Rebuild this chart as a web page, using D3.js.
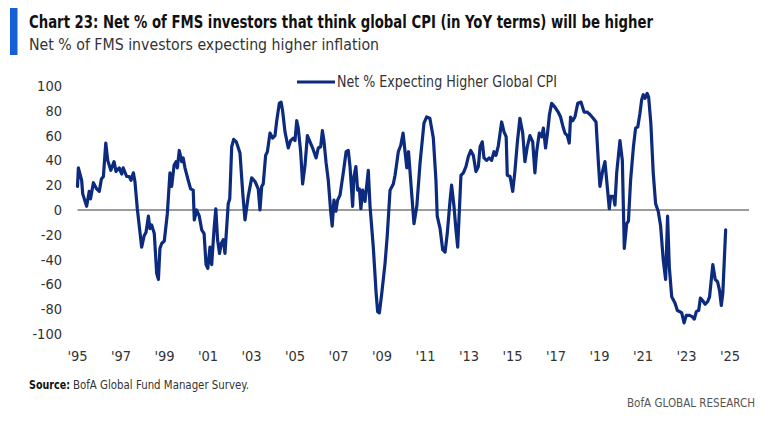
<!DOCTYPE html>
<html>
<head>
<meta charset="utf-8">
<script src="https://cdn.jsdelivr.net/npm/d3@7"></script>
<style>
  html, body { margin: 0; padding: 0; background: #fff; }
  svg { display: block; }
  text { font-family: "Liberation Sans Narrow", "DejaVu Sans Condensed", Roboto, sans-serif; }
</style>
</head>
<body>
<svg id="chart" width="766" height="421"></svg>
<script>
// ---- Data ----
const titleText = "Chart 23: Net % of FMS investors that think global CPI (in YoY terms) will be higher";
const subtitleText = "Net % of FMS investors expecting higher inflation";
const seriesName = "Net % Expecting Higher Global CPI";

// decimal year of each survey point
const years = [
  1995.00,1995.04,1995.19,1995.24,1995.42,1995.54,1995.60,1995.73,1995.88,1996.00,
  1996.10,1996.19,1996.30,1996.39,1996.53,1996.68,1996.77,1996.92,1997.03,1997.10,
  1997.26,1997.38,1997.46,1997.57,1997.64,1997.75,1997.84,1997.95,1998.06,1998.15,
  1998.26,1998.33,1998.41,1998.53,1998.64,1998.72,1998.79,1998.87,1998.99,1999.13,
  1999.25,1999.33,1999.44,1999.53,1999.59,1999.68,1999.79,1999.86,1999.94,2000.09,
  2000.20,2000.32,2000.37,2000.48,2000.60,2000.71,2000.82,2000.91,2000.99,2001.09,
  2001.17,2001.28,2001.36,2001.44,2001.53,2001.61,2001.70,2001.78,2001.93,2002.00,
  2002.09,2002.18,2002.30,2002.47,2002.60,2002.70,2002.85,2003.01,2003.16,2003.31,
  2003.39,2003.47,2003.54,2003.65,2003.73,2003.85,2003.97,2004.08,2004.16,2004.28,
  2004.36,2004.43,2004.54,2004.69,2004.80,2004.92,2005.00,2005.08,2005.15,2005.26,
  2005.35,2005.46,2005.57,2005.69,2005.81,2005.97,2006.07,2006.18,2006.26,2006.33,
  2006.43,2006.53,2006.64,2006.71,2006.79,2006.88,2006.96,2007.07,2007.22,2007.35,
  2007.45,2007.53,2007.65,2007.71,2007.80,2007.88,2007.96,2008.03,2008.11,2008.22,
  2008.37,2008.45,2008.60,2008.73,2008.80,2008.88,2008.99,2009.14,2009.24,2009.37,
  2009.52,2009.60,2009.68,2009.75,2009.86,2009.97,2010.06,2010.14,2010.22,2010.37,
  2010.47,2010.60,2010.75,2010.93,2011.05,2011.20,2011.36,2011.48,2011.54,2011.67,
  2011.79,2011.90,2012.00,2012.13,2012.20,2012.31,2012.40,2012.48,2012.55,2012.63,
  2012.74,2012.86,2012.97,2013.08,2013.20,2013.32,2013.43,2013.51,2013.61,2013.69,
  2013.81,2013.93,2014.04,2014.15,2014.24,2014.35,2014.50,2014.61,2014.71,2014.76,
  2014.89,2015.01,2015.11,2015.22,2015.34,2015.47,2015.57,2015.68,2015.80,2015.93,
  2016.03,2016.11,2016.23,2016.34,2016.42,2016.52,2016.61,2016.70,2016.80,2016.95,
  2017.10,2017.21,2017.31,2017.41,2017.52,2017.61,2017.67,2017.77,2017.87,2018.00,
  2018.15,2018.29,2018.44,2018.56,2018.71,2018.84,2018.95,2019.02,2019.15,2019.25,
  2019.33,2019.45,2019.51,2019.64,2019.71,2019.79,2019.94,2020.05,2020.14,2020.25,
  2020.33,2020.43,2020.56,2020.66,2020.76,2020.86,2020.94,2021.01,2021.09,2021.19,
  2021.26,2021.36,2021.47,2021.58,2021.70,2021.81,2021.93,2022.04,2022.13,2022.21,
  2022.32,2022.47,2022.58,2022.70,2022.78,2022.89,2022.99,2023.14,2023.26,2023.36,
  2023.45,2023.56,2023.64,2023.74,2023.86,2023.97,2024.06,2024.21,2024.32,2024.43,
  2024.52,2024.60,2024.67,2024.80
];

// net % of investors expecting higher global CPI
const netPct = [
  19,34,24,13,3,15,9,22,17,15,
  25,27,54,40,32,39,31,34,29,34,
  27,27,24,30,23,1,-13,-30,-21,-18,
  -5,-15,-12,-19,-51,-56,-31,-27,-25,-3,
  30,19,36,39,34,48,39,42,34,24,
  17,16,-8,0,-5,-16,-19,-44,-47,-30,
  -44,-15,1,-24,-35,-27,-24,-35,5,9,
  51,57,55,46,13,-8,11,26,23,17,
  0,19,21,44,47,62,58,60,72,86,
  87,80,63,50,56,58,56,72,66,47,
  21,36,60,55,50,42,50,51,64,56,
  38,24,-1,-13,8,-1,8,12,30,47,
  48,35,3,27,35,16,17,1,16,7,
  32,3,-30,-67,-82,-83,-67,-43,-21,16,
  21,28,38,47,52,62,47,34,47,12,
  -11,3,38,70,75,74,58,24,-5,-15,
  -32,-34,-19,8,20,3,-16,-30,-3,28,
  30,35,43,48,44,31,35,51,55,42,
  40,42,40,47,44,52,71,63,59,28,
  27,15,31,54,74,62,39,51,60,55,
  30,47,62,59,66,50,62,77,86,83,
  79,75,68,62,60,54,75,72,75,86,
  87,79,79,77,74,71,38,19,32,39,
  24,1,11,11,4,30,56,40,-31,-11,
  -9,24,51,66,67,78,89,93,90,94,
  91,70,30,5,-1,-13,-40,-56,-5,-46,
  -70,-75,-81,-82,-83,-91,-85,-85,-86,-88,
  -82,-81,-71,-73,-76,-74,-70,-44,-56,-58,
  -65,-77,-67,-16
];

const xTickYears = [1995,1997,1999,2001,2003,2005,2007,2009,2011,2013,2015,2017,2019,2021,2023,2025];
const xTickLabels = ["'95","'97","'99","'01","'03","'05","'07","'09","'11","'13","'15","'17","'19","'21","'23","'25"];
const yTicks = [100,80,60,40,20,0,-20,-40,-60,-80,-100];

const sourceBold = "Source:";
const sourceText = "BofA Global Fund Manager Survey.";
const brandText = "BofA GLOBAL RESEARCH";

// ---- Drawing ----
const svg = d3.select("#chart");
const navy = "#0d2b7e";

const x = d3.scaleLinear().domain([1995, 2026]).range([77.5, 751.75]);
const y = d3.scaleLinear().domain([-100, 100]).range([334, 86]);

// header
svg.append("rect").attr("x", 10).attr("y", 8).attr("width", 7.5).attr("height", 47).attr("fill", "#1560d4");
svg.append("text").attr("x", 29).attr("y", 28)
  .attr("font-size", 17).attr("font-weight", "bold").attr("fill", "#111")
  .attr("textLength", 624).attr("lengthAdjust", "spacingAndGlyphs")
  .text(titleText);
svg.append("text").attr("x", 29).attr("y", 50)
  .attr("font-size", 16).attr("fill", "#333")
  .attr("textLength", 350).attr("lengthAdjust", "spacingAndGlyphs")
  .text(subtitleText);

// y axis labels
svg.append("g").selectAll("text").data(yTicks).join("text")
  .attr("x", 62).attr("y", d => y(d)).attr("dy", "0.35em")
  .attr("text-anchor", "end").attr("font-size", 14.5).attr("fill", "#333")
  .text(d => d);

// x axis labels
svg.append("g").selectAll("text").data(xTickYears).join("text")
  .attr("x", d => x(d)).attr("y", 361)
  .attr("text-anchor", "middle").attr("font-size", 14.5).attr("fill", "#333")
  .text((d, i) => xTickLabels[i]);

// zero line
svg.append("line")
  .attr("x1", x(1995)).attr("x2", 749)
  .attr("y1", y(0)).attr("y2", y(0))
  .attr("stroke", "#7a7a7a").attr("stroke-width", 1.6);

// series line
const pts = years.map((yr, i) => [yr, netPct[i]]);
const line = d3.line().x(d => x(d[0])).y(d => y(d[1]));
svg.append("path").datum(pts)
  .attr("d", line)
  .attr("fill", "none").attr("stroke", navy)
  .attr("stroke-width", 3.2).attr("stroke-linejoin", "round").attr("stroke-linecap", "round");

// legend
svg.append("line").attr("x1", 297).attr("x2", 335).attr("y1", 82).attr("y2", 82)
  .attr("stroke", navy).attr("stroke-width", 3);
svg.append("text").attr("x", 337).attr("y", 86.5)
  .attr("font-size", 15).attr("fill", "#333")
  .attr("textLength", 220).attr("lengthAdjust", "spacingAndGlyphs")
  .text(seriesName);

// footer
svg.append("text").attr("x", 29).attr("y", 389)
  .attr("font-size", 12.5).attr("font-weight", "bold").attr("fill", "#111")
  .attr("textLength", 41).attr("lengthAdjust", "spacingAndGlyphs")
  .text(sourceBold);
svg.append("text").attr("x", 73).attr("y", 389)
  .attr("font-size", 12.5).attr("fill", "#333")
  .attr("textLength", 176).attr("lengthAdjust", "spacingAndGlyphs")
  .text(sourceText);

svg.append("text").attr("x", 755).attr("y", 407)
  .attr("text-anchor", "end").attr("font-size", 12.5).attr("fill", "#555")
  .attr("textLength", 128).attr("lengthAdjust", "spacingAndGlyphs")
  .text(brandText);
</script>
</body>
</html>
